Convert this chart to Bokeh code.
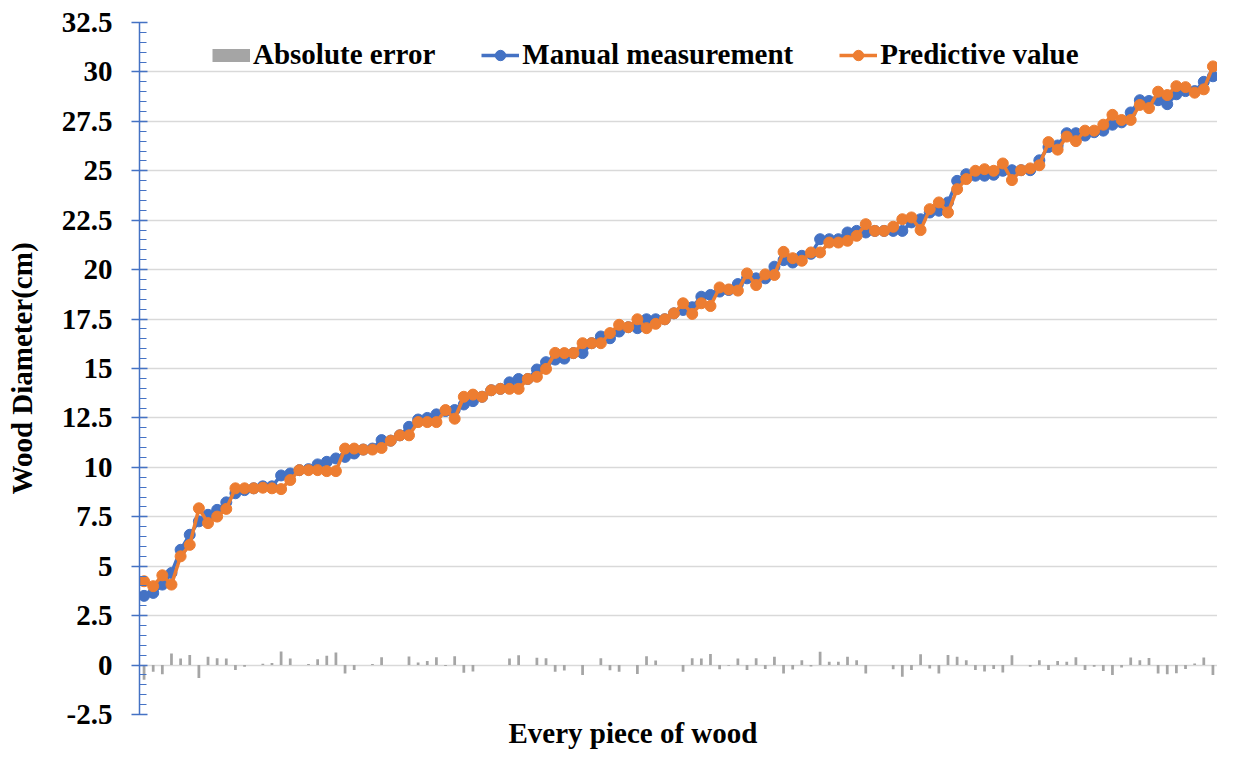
from bokeh.plotting import figure
from bokeh.models import ColumnDataSource, FixedTicker, Legend, LegendItem, Title, Range1d
from bokeh.embed import file_html
from bokeh.resources import INLINE

# ---- data ----
manual = [3.50, 3.65, 4.07, 4.66, 5.83, 6.59, 7.27, 7.60, 7.85, 8.23,
          8.69, 8.85, 8.94, 9.04, 9.04, 9.59, 9.69, 9.86, 9.91, 10.15,
          10.28, 10.45, 10.53, 10.70, 10.90, 10.95, 11.38, 11.35, 11.62, 12.05,
          12.42, 12.50, 12.68, 12.85, 12.90, 13.18, 13.35, 13.57, 13.90, 13.97,
          14.30, 14.47, 14.47, 14.95, 15.32, 15.45, 15.50, 15.78, 15.78, 16.28,
          16.62, 16.53, 16.87, 17.09, 17.04, 17.49, 17.49, 17.49, 17.79, 17.96,
          18.10, 18.63, 18.72, 18.89, 18.97, 19.27, 19.56, 19.56, 19.56, 20.15,
          20.48, 20.36, 20.70, 20.80, 21.54, 21.54, 21.54, 21.88, 21.96, 21.88,
          21.96, 21.96, 21.96, 21.96, 22.39, 22.55, 22.89, 22.98, 23.40, 24.49,
          24.83, 24.75, 24.75, 24.80, 25.00, 25.03, 25.03, 25.03, 25.53, 26.20,
          26.28, 26.90, 26.90, 26.78, 26.95, 27.03, 27.33, 27.45, 27.95, 28.57,
          28.53, 28.57, 28.37, 28.87, 29.03, 29.03, 29.50, 29.78]

predictive = [4.24, 3.99, 4.54, 4.07, 5.50, 6.08, 7.93, 7.18, 7.51, 7.90,
              8.94, 8.94, 8.94, 8.97, 8.94, 8.90, 9.36, 9.86, 9.86, 9.86,
              9.81, 9.81, 10.95, 10.95, 10.90, 10.90, 10.98, 11.35, 11.62, 11.62,
              12.29, 12.29, 12.29, 12.90, 12.46, 13.57, 13.68, 13.57, 13.90, 13.97,
              13.97, 13.97, 14.47, 14.58, 14.98, 15.79, 15.78, 15.78, 16.28, 16.28,
              16.28, 16.79, 17.21, 17.09, 17.49, 17.04, 17.26, 17.49, 17.79, 18.30,
              17.76, 18.30, 18.16, 19.10, 19.00, 18.94, 19.81, 19.22, 19.76, 19.73,
              20.90, 20.58, 20.45, 20.87, 20.87, 21.37, 21.37, 21.46, 21.71, 22.30,
              21.96, 21.96, 22.17, 22.55, 22.64, 22.00, 23.06, 23.40, 22.89, 24.07,
              24.58, 25.00, 25.08, 25.00, 25.37, 24.53, 25.03, 25.12, 25.28, 26.45,
              26.07, 26.73, 26.50, 27.03, 27.03, 27.33, 27.83, 27.57, 27.57, 28.33,
              28.17, 29.00, 28.83, 29.28, 29.23, 28.95, 29.12, 30.28]

# plotted "absolute error" = manual - predictive (signed, as in the reference bars)
abs_error = [round(m - q, 2) for m, q in zip(manual, predictive)]
pieces = list(range(1, len(manual) + 1))

y_ticks = [-2.5, 0, 2.5, 5, 7.5, 10, 12.5, 15, 17.5, 20, 22.5, 25, 27.5, 30, 32.5]
y_tick_labels = ["-2.5", "0", "2.5", "5", "7.5", "10", "12.5", "15", "17.5",
                 "20", "22.5", "25", "27.5", "30", "32.5"]

# ---- chart ----
FONT = "Liberation Serif"
BLUE = "#4472C4"
ORANGE = "#ED7D31"
GRAY = "#A5A5A5"

src = ColumnDataSource(dict(x=pieces, manual=manual, pred=predictive, err=abs_error))

p = figure(width=1217, height=750, output_backend="svg", toolbar_location=None,
           x_range=Range1d(0.5, len(pieces) + 0.5), y_range=Range1d(-2.5, 32.5),
           min_border_left=139, min_border_right=0, min_border_top=22,
           min_border_bottom=36)
p.outline_line_color = None
p.background_fill_color = "white"

r_bar = p.vbar(x="x", top="err", bottom=0, width=0.3, source=src,
               fill_color=GRAY, line_color=None)
r_l1 = p.line("x", "manual", source=src, line_color=BLUE, line_width=3.5)
r_m1 = p.scatter("x", "manual", source=src, size=11, fill_color=BLUE, line_color=BLUE)
r_l2 = p.line("x", "pred", source=src, line_color=ORANGE, line_width=3.5)
r_m2 = p.scatter("x", "pred", source=src, size=11, fill_color=ORANGE, line_color=ORANGE)

# legend-only swatch for the bar series (a thick flat line = gray rectangle);
# its single point is NaN so nothing is drawn in the plot area
r_bar_key = p.line(x=[1], y=[float("nan")], line_color=GRAY, line_width=13,
                   line_cap="butt")

# y axis
ya = p.yaxis[0]
ya.ticker = FixedTicker(ticks=y_ticks, minor_ticks=[-2.5 + 0.5 * k for k in range(71)])
ya.major_label_overrides = dict(zip(y_ticks, y_tick_labels))
ya.axis_line_color = BLUE
ya.axis_line_width = 1.5
ya.major_tick_line_color = BLUE
ya.major_tick_line_width = 1.5
ya.major_tick_in = 8
ya.major_tick_out = 8
ya.minor_tick_line_color = BLUE
ya.minor_tick_line_width = 1.2
ya.minor_tick_in = 7
ya.minor_tick_out = 0
ya.major_label_standoff = 19
ya.major_label_text_font = FONT
ya.major_label_text_font_style = "bold"
ya.major_label_text_font_size = "29px"
ya.major_label_text_color = "black"
ya.axis_label = "Wood Diameter(cm)"
ya.axis_label_text_font = FONT
ya.axis_label_text_font_style = "bold"
ya.axis_label_text_font_size = "29px"
ya.axis_label_text_color = "black"
ya.axis_label_standoff = 21

p.ygrid.grid_line_color = "#D9D9D9"
p.ygrid.grid_line_width = 1.5
p.xgrid.grid_line_color = None
p.xaxis.visible = False

xt = Title(text="Every piece of wood", align="left", offset=369,
           text_font=FONT, text_font_style="bold", text_font_size="29px",
           text_color="black", standoff=0)
p.add_layout(xt, "below")

legend = Legend(items=[
    LegendItem(label="Absolute error", renderers=[r_bar_key]),
    LegendItem(label="Manual measurement", renderers=[r_l1, r_m1]),
    LegendItem(label="Predictive value", renderers=[r_l2, r_m2]),
], orientation="horizontal", location=(73, 643))
legend.label_text_font = FONT
legend.label_text_font_style = "bold"
legend.label_text_font_size = "29px"
legend.label_text_color = "black"
legend.glyph_width = 38
legend.glyph_height = 26
legend.label_standoff = 3
legend.spacing = 46
legend.padding = 0
legend.margin = 0
legend.border_line_color = None
legend.background_fill_alpha = 0
p.add_layout(legend, "center")

open("out.html", "w").write(file_html(p, INLINE))
